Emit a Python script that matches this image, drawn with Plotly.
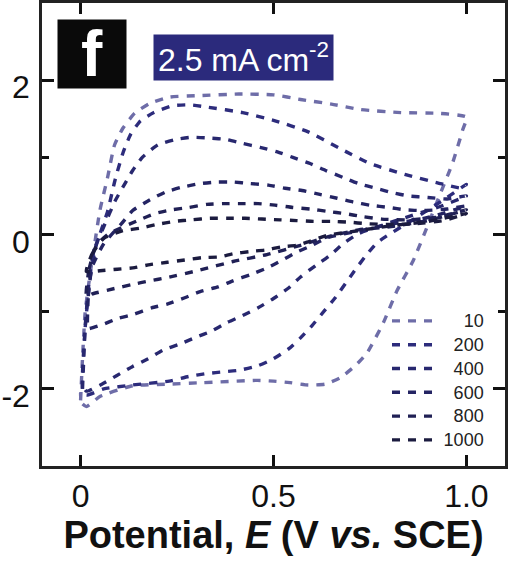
import plotly.graph_objects as go

# Scan rates and loops
names = ["10", "200", "400", "600", "800", "1000"]
x10 = [0.0, 0.005, 0.012, 0.025, 0.036, 0.05, 0.07, 0.088, 0.11, 0.14, 0.18, 0.23, 0.31, 0.41, 0.5, 0.57, 0.65, 0.725, 0.83, 0.93, 1.0,
       0.99, 0.965, 0.93, 0.9, 0.862, 0.82, 0.785, 0.743, 0.712, 0.672, 0.633, 0.59, 0.543, 0.5, 0.458, 0.317, 0.223, 0.135, 0.05, 0.015, 0.002, 0.0]
y10 = [-2.15, -1.6, -1.0, -0.5, -0.14, 0.31, 0.74, 1.16, 1.38, 1.57, 1.7, 1.78, 1.8, 1.82, 1.81, 1.75, 1.69, 1.62, 1.58, 1.57, 1.52,
       1.35, 0.94, 0.5, 0.12, -0.34, -0.73, -1.14, -1.53, -1.7, -1.86, -1.94, -1.95, -1.92, -1.9, -1.89, -1.92, -1.94, -1.96, -2.1, -2.23, -2.18, -2.05]
x200 = [0.005, 0.012, 0.025, 0.04, 0.07, 0.09, 0.11, 0.13, 0.155, 0.19, 0.24, 0.283, 0.33, 0.42, 0.5, 0.59, 0.67, 0.75, 0.84, 0.925, 0.99, 1.0,
        0.95, 0.87, 0.77, 0.74, 0.71, 0.66, 0.63, 0.6, 0.57, 0.54, 0.5, 0.46, 0.41, 0.37, 0.33, 0.28, 0.23, 0.135, 0.06, 0.015, 0.005]
y200 = [-2.0, -1.2, -0.55, -0.15, 0.3, 0.72, 1.06, 1.3, 1.47, 1.58, 1.67, 1.68, 1.65, 1.58, 1.48, 1.33, 1.12, 0.92, 0.78, 0.67, 0.6, 0.65,
        0.48, 0.22, -0.1, -0.27, -0.47, -0.82, -1.0, -1.18, -1.34, -1.48, -1.61, -1.7, -1.76, -1.78, -1.8, -1.84, -1.9, -1.95, -2.0, -2.08, -2.0]
x400 = [0.005, 0.012, 0.022, 0.035, 0.06, 0.09, 0.115, 0.135, 0.16, 0.2, 0.245, 0.288, 0.335, 0.38, 0.42, 0.465, 0.51, 0.55, 0.595, 0.635, 0.68, 0.72, 0.765, 0.81, 0.85, 0.9, 0.95, 1.0,
        0.93, 0.83, 0.72, 0.68, 0.647, 0.61, 0.57, 0.54, 0.5, 0.46, 0.42, 0.38, 0.34, 0.3, 0.257, 0.213, 0.175, 0.135, 0.093, 0.055, 0.015, 0.005]
y400 = [-2.0, -1.2, -0.6, -0.2, 0.1, 0.44, 0.66, 0.83, 1.0, 1.16, 1.23, 1.26, 1.25, 1.23, 1.18, 1.13, 1.07, 1.0, 0.92, 0.83, 0.74, 0.66, 0.6, 0.54, 0.5, 0.48, 0.46, 0.5,
        0.36, 0.2, 0.01, -0.12, -0.27, -0.4, -0.55, -0.69, -0.83, -0.95, -1.05, -1.14, -1.25, -1.33, -1.42, -1.5, -1.61, -1.71, -1.83, -1.94, -2.03, -1.95]
x600 = [0.018, 0.02, 0.03, 0.06, 0.106, 0.135, 0.18, 0.22, 0.26, 0.31, 0.353, 0.395, 0.44, 0.487, 0.53, 0.574, 0.62, 0.665, 0.707, 0.75, 0.8, 0.84, 0.89, 0.95, 1.0,
        0.9, 0.8, 0.725, 0.64, 0.6, 0.56, 0.52, 0.48, 0.44, 0.395, 0.356, 0.31, 0.27, 0.226, 0.184, 0.14, 0.096, 0.055, 0.02, 0.018]
y600 = [-1.2, -0.8, -0.42, -0.12, 0.14, 0.31, 0.45, 0.55, 0.61, 0.66, 0.68, 0.68, 0.66, 0.64, 0.6, 0.57, 0.52, 0.47, 0.42, 0.38, 0.35, 0.32, 0.31, 0.33, 0.37,
        0.22, 0.13, 0.05, -0.04, -0.14, -0.23, -0.34, -0.44, -0.52, -0.6, -0.68, -0.74, -0.82, -0.9, -0.95, -1.03, -1.09, -1.17, -1.22, -1.2]
x800 = [0.015, 0.022, 0.04, 0.07, 0.148, 0.192, 0.236, 0.28, 0.327, 0.37, 0.413, 0.46, 0.504, 0.55, 0.595, 0.64, 0.686, 0.733, 0.78, 0.85, 0.92, 1.0,
        0.9, 0.8, 0.72, 0.64, 0.57, 0.483, 0.395, 0.31, 0.223, 0.18, 0.132, 0.088, 0.03, 0.015]
y800 = [-0.8, -0.45, -0.15, 0.0, 0.18, 0.27, 0.32, 0.35, 0.39, 0.4, 0.4, 0.4, 0.38, 0.35, 0.33, 0.3, 0.27, 0.23, 0.2, 0.19, 0.22, 0.32,
        0.18, 0.1, 0.06, -0.03, -0.14, -0.26, -0.35, -0.46, -0.56, -0.6, -0.65, -0.7, -0.77, -0.8]
x1000 = [0.015, 0.03, 0.06, 0.11, 0.153, 0.197, 0.244, 0.288, 0.335, 0.38, 0.426, 0.47, 0.517, 0.56, 0.603, 0.65, 0.695, 0.742, 0.8, 0.87, 0.94, 1.0,
         0.9, 0.8, 0.72, 0.64, 0.587, 0.56, 0.52, 0.48, 0.44, 0.395, 0.36, 0.315, 0.27, 0.225, 0.18, 0.14, 0.095, 0.05, 0.015]
y1000 = [-0.48, -0.25, -0.05, 0.05, 0.08, 0.13, 0.17, 0.19, 0.21, 0.21, 0.21, 0.2, 0.19, 0.18, 0.17, 0.17, 0.16, 0.14, 0.13, 0.14, 0.18, 0.27,
         0.17, 0.11, 0.05, -0.01, -0.1, -0.14, -0.16, -0.2, -0.22, -0.25, -0.29, -0.3, -0.33, -0.36, -0.39, -0.43, -0.45, -0.47, -0.48]
xs = [x10, x200, x400, x600, x800, x1000]
ys = [y10, y200, y400, y600, y800, y1000]
colors = ["#6e6da8", "#2d2c7c", "#28286f", "#242463", "#202055", "#1b1b3f"]
x_ticks = [0, 0.5, 1.0]
x_labels = ["0", "0.5", "1.0"]
y_ticks = [-2, 0, 2]
y_labels = ["-2", "0", "2"]

W, H = 509, 564
L, R, T, B = 42, 4, 3, 98
pw, ph = W - L - R, H - T - B
px = lambda v: (v - L) / pw
py = lambda v: 1 - (v - T) / ph

fig = go.Figure()
for n, x, y, c in zip(names, xs, ys, colors):
    label = "\u2009" + "\u2007" * (4 - len(n)) + n
    fig.add_trace(go.Scatter(x=x, y=y, mode="lines", name=f'<span style="font-size:18px">{label}</span>',
                             line=dict(color=c, width=3.4, dash="8px,8px", shape="spline", smoothing=0.5),
                             hoverinfo="skip"))
dark = "#111111"
axis_line = dict(showline=True, linecolor="#222222", linewidth=2.5, showgrid=False, zeroline=False,
                 ticks="inside", tickcolor="#111111", tickwidth=2.5, automargin=False)
fig.update_layout(
    width=W, height=H, margin=dict(l=L, r=R, t=T, b=B, pad=0, autoexpand=False),
    paper_bgcolor="white", plot_bgcolor="white",
    font=dict(family="Liberation Sans", color=dark),
    xaxis=dict(range=[-0.1, 1.1], tickvals=x_ticks, ticktext=x_labels, ticklen=11, mirror="allticks",
               tickfont=dict(size=32), ticklabelstandoff=0,
               title=dict(text="<b>Potential, <i>E</i> (V <i>vs.</i> SCE)</b>", font=dict(size=38), standoff=5), **axis_line),
    yaxis=dict(range=[-3, 3], tickvals=y_ticks, ticktext=y_labels, ticklen=12, mirror="allticks",
               tickfont=dict(size=32), ticklabelstandoff=3, ticklabelshift=7,
               minor=dict(tickvals=[-1, 1], ticklen=7, ticks="inside", tickcolor="#111111", tickwidth=2.5), **axis_line),
    xaxis2=dict(range=[-0.1, 1.1], overlaying="x", anchor="y", side="top", tickvals=[0.25, 0.75], ticklen=6,
                ticks="inside", tickcolor="#111111", tickwidth=2.5, showticklabels=False, showgrid=False, zeroline=False),
    legend=dict(x=px(387), y=py(304), xanchor="left", yanchor="top", bgcolor="rgba(0,0,0,0)",
                itemwidth=43, font=dict(size=16, color="#222222"), itemclick=False, itemdoubleclick=False),
    annotations=[
        dict(text="<b>f</b>", xref="paper", yref="paper", x=px(57), y=py(19), xanchor="left", yanchor="top",
             width=68, height=68, bgcolor="#0a0a0a", font=dict(size=64, color="white"), showarrow=False, borderpad=0),
        dict(text="2.5 mA cm<sup>-2</sup>", xref="paper", yref="paper", x=px(153), y=py(34), xanchor="left", yanchor="top",
             width=179, height=45, bgcolor="#2b2a7c", font=dict(size=32, color="white"), showarrow=False, borderpad=0),
    ],
)
fig.write_html("out.html", config=dict(displayModeBar=False),
               post_script="document.body.style.margin='0';document.body.style.overflow='hidden';")
